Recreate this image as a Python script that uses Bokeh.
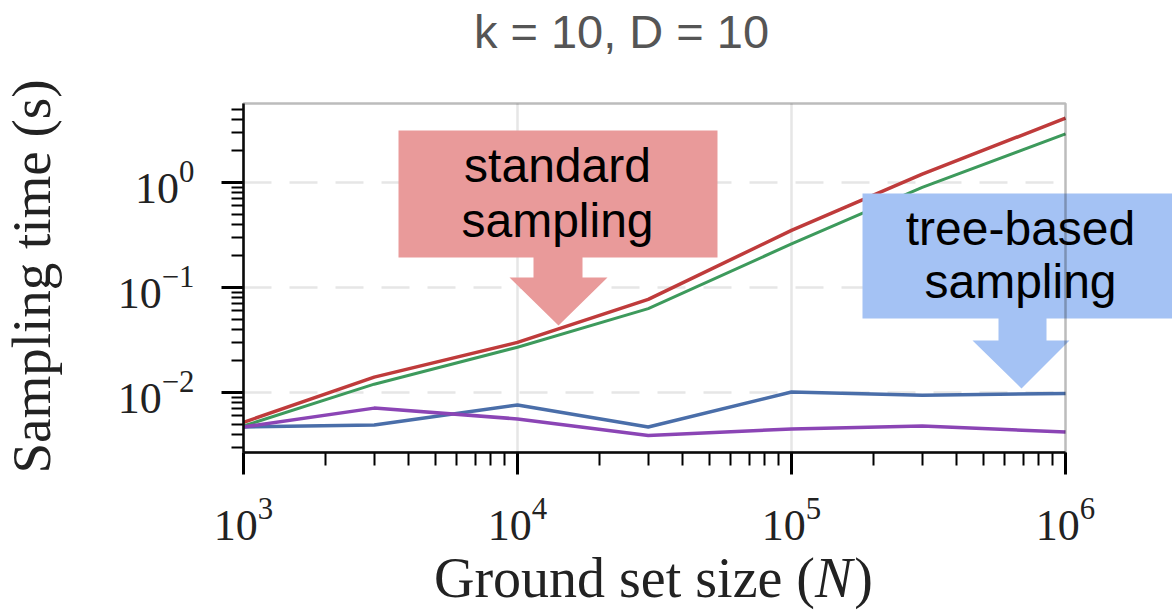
import math
from bokeh.plotting import figure
from bokeh.models import Range1d, Label, PolyAnnotation, BoxAnnotation
from bokeh.embed import file_html
from bokeh.resources import INLINE

# ---- data ----
N = [1e3, 3e3, 1e4, 3e4, 1e5, 3e5, 1e6]
std_red = [0.0052, 0.014, 0.030, 0.077, 0.35, 1.2, 4.1]
std_green = [0.0048, 0.012, 0.027, 0.063, 0.26, 0.9, 2.9]
tree_blue = [0.0047, 0.0049, 0.0076, 0.0047, 0.0101, 0.0094, 0.0098]
tree_purple = [0.0047, 0.0071, 0.0056, 0.0039, 0.0045, 0.0048, 0.0042]

x_bounds = (1e3, 1e6)
y_bounds = (0.002683, 5.654)
grid_x = [1e4, 1e5]
grid_y = [1e-2, 1e-1, 1e0]

title_text = "k = 10, D = 10"
x_label_parts = ["Ground set size (", "N", ")"]
y_label = "Sampling time (s)"
red_note = ["standard", "sampling"]
blue_note = ["tree-based", "sampling"]

# ---- canvas geometry: the frame fills the whole canvas ----
W, H = 1172, 615
X0_PX, X_DEC = 243, 274      # pixel of 10^3, pixels per decade
Y0_PX, Y_DEC = 182, 105      # pixel (from top) of 10^0, pixels per decade
x_start = 10 ** (3 - X0_PX / X_DEC)
x_end = 10 ** (3 + (W - X0_PX) / X_DEC)
y_end = 10 ** (Y0_PX / Y_DEC)
y_start = 10 ** (-(H - Y0_PX) / Y_DEC)

p = figure(width=W, height=H, x_axis_type="log", y_axis_type="log",
           x_range=Range1d(x_start, x_end), y_range=Range1d(y_start, y_end),
           output_backend="svg", toolbar_location=None,
           min_border=0, min_border_left=0, min_border_right=0,
           min_border_top=0, min_border_bottom=0)
p.background_fill_color = "white"
p.border_fill_color = "white"
p.outline_line_color = None
p.xgrid.visible = False
p.ygrid.visible = False

serif = "Liberation Serif"
sans = "Liberation Sans"
for ax in (p.xaxis[0], p.yaxis[0]):
    ax.axis_line_color = "black"
    ax.axis_line_width = 2.5
    ax.major_tick_line_color = "black"
    ax.minor_tick_line_color = "black"
    ax.major_tick_line_width = 3
    ax.minor_tick_line_width = 2
    ax.major_tick_in = 0
    ax.minor_tick_in = 0
    ax.major_label_text_font = serif
    ax.major_label_text_font_size = "44px"
    ax.major_label_text_color = "#222222"

p.xaxis.fixed_location = y_bounds[0]
p.yaxis.fixed_location = x_bounds[0]
p.xaxis.bounds = x_bounds
p.yaxis.bounds = y_bounds
p.xaxis.major_tick_out = 22
p.xaxis.minor_tick_out = 13
p.yaxis.major_tick_out = 22
p.yaxis.minor_tick_out = 12
p.xaxis.major_label_standoff = 25
p.yaxis.major_label_standoff = 27

# grid lines inside the axes box
p.segment(x0=grid_x, y0=[y_bounds[0]] * len(grid_x), x1=grid_x, y1=[y_bounds[1]] * len(grid_x),
          line_color="#e6e6e6", line_width=2.5, level="underlay")
p.segment(x0=[x_bounds[0]] * len(grid_y), y0=grid_y, x1=[x_bounds[1]] * len(grid_y), y1=grid_y,
          line_color="#e6e6e6", line_width=2.5, line_dash="28 18", level="underlay")

# closing box (top and right edges of the axes)
p.add_layout(BoxAnnotation(left=x_bounds[0], right=x_bounds[1],
                           bottom=y_bounds[0], top=y_bounds[1],
                           fill_alpha=0, line_color="#222222", line_width=2.5,
                           level="overlay"))

p.line(N, std_red, line_color="#bf3b3b", line_width=3.5, line_join="round")
p.line(N, std_green, line_color="#3d9a5c", line_width=3, line_join="round")
p.line(N, tree_blue, line_color="#4a6ea9", line_width=3.5, line_join="round")
p.line(N, tree_purple, line_color="#8b45b5", line_width=3.5, line_join="round")

# ---- arrow notes (screen units, canvas bottom-left origin) ----
def sy(page_y):
    return H - page_y

red_px = [398, 717, 717, 582, 582, 607, 558, 509, 533, 533, 398]
red_py = [130, 130, 257, 257, 277, 277, 325, 277, 277, 257, 257]
p.add_layout(PolyAnnotation(xs=red_px, ys=[sy(v) for v in red_py],
                            xs_units="screen", ys_units="screen",
                            fill_color="#e99a9a", fill_alpha=1.0, line_alpha=0))
blue_px = [862, 1180, 1180, 1046, 1046, 1069, 1021, 972, 998, 998, 862]
blue_py = [193, 193, 318, 318, 340, 340, 388, 340, 340, 318, 318]
p.add_layout(PolyAnnotation(xs=blue_px, ys=[sy(v) for v in blue_py],
                            xs_units="screen", ys_units="screen",
                            fill_color="#a4c2f4", fill_alpha=1.0, line_alpha=0))

def lab(x, base_y, t, size, font=sans, color="black", align="center", style="normal",
        angle=0.0, k=0.3465):
    # base_y: page y of the text baseline; Bokeh "middle" sits k*size above it
    p.add_layout(Label(x=x, y=sy(base_y - k * size), x_units="screen", y_units="screen",
                       text=t, text_font=font, text_font_size=f"{size}px",
                       text_font_style=style, text_color=color, angle=angle,
                       text_align=align, text_baseline="middle"))

lab(557, 182, red_note[0], 48)
lab(557, 237, red_note[1], 48)
lab(1020, 245, blue_note[0], 48)
lab(1020, 298, blue_note[1], 48)
lab(621, 47, title_text, 47, color="#555555")

# x axis label: "Ground set size (" + italic N + ")"
xs_size = 56
xs_base = 596
em = {"p1": 6.804, "N": 0.667, "p3": 0.333}
total = (em["p1"] + em["N"] + em["p3"]) * xs_size
x_left = 652 - total / 2
lab(x_left, xs_base, x_label_parts[0], xs_size, font=serif, color="#222222", align="left", k=0.3375)
lab(x_left + em["p1"] * xs_size, xs_base, x_label_parts[1], xs_size, font=serif, color="#222222",
    align="left", style="italic", k=0.3375)
lab(x_left + (em["p1"] + em["N"]) * xs_size + 2, xs_base, x_label_parts[2], xs_size, font=serif,
    color="#222222", align="left", k=0.3375)

# y axis label (rotated)
p.add_layout(Label(x=31, y=sy(276), x_units="screen", y_units="screen", text=y_label,
                   text_font=serif, text_font_size="55px", text_color="#222222",
                   angle=math.pi / 2, text_align="center", text_baseline="middle"))

open("out.html", "w").write(file_html(p, INLINE))
